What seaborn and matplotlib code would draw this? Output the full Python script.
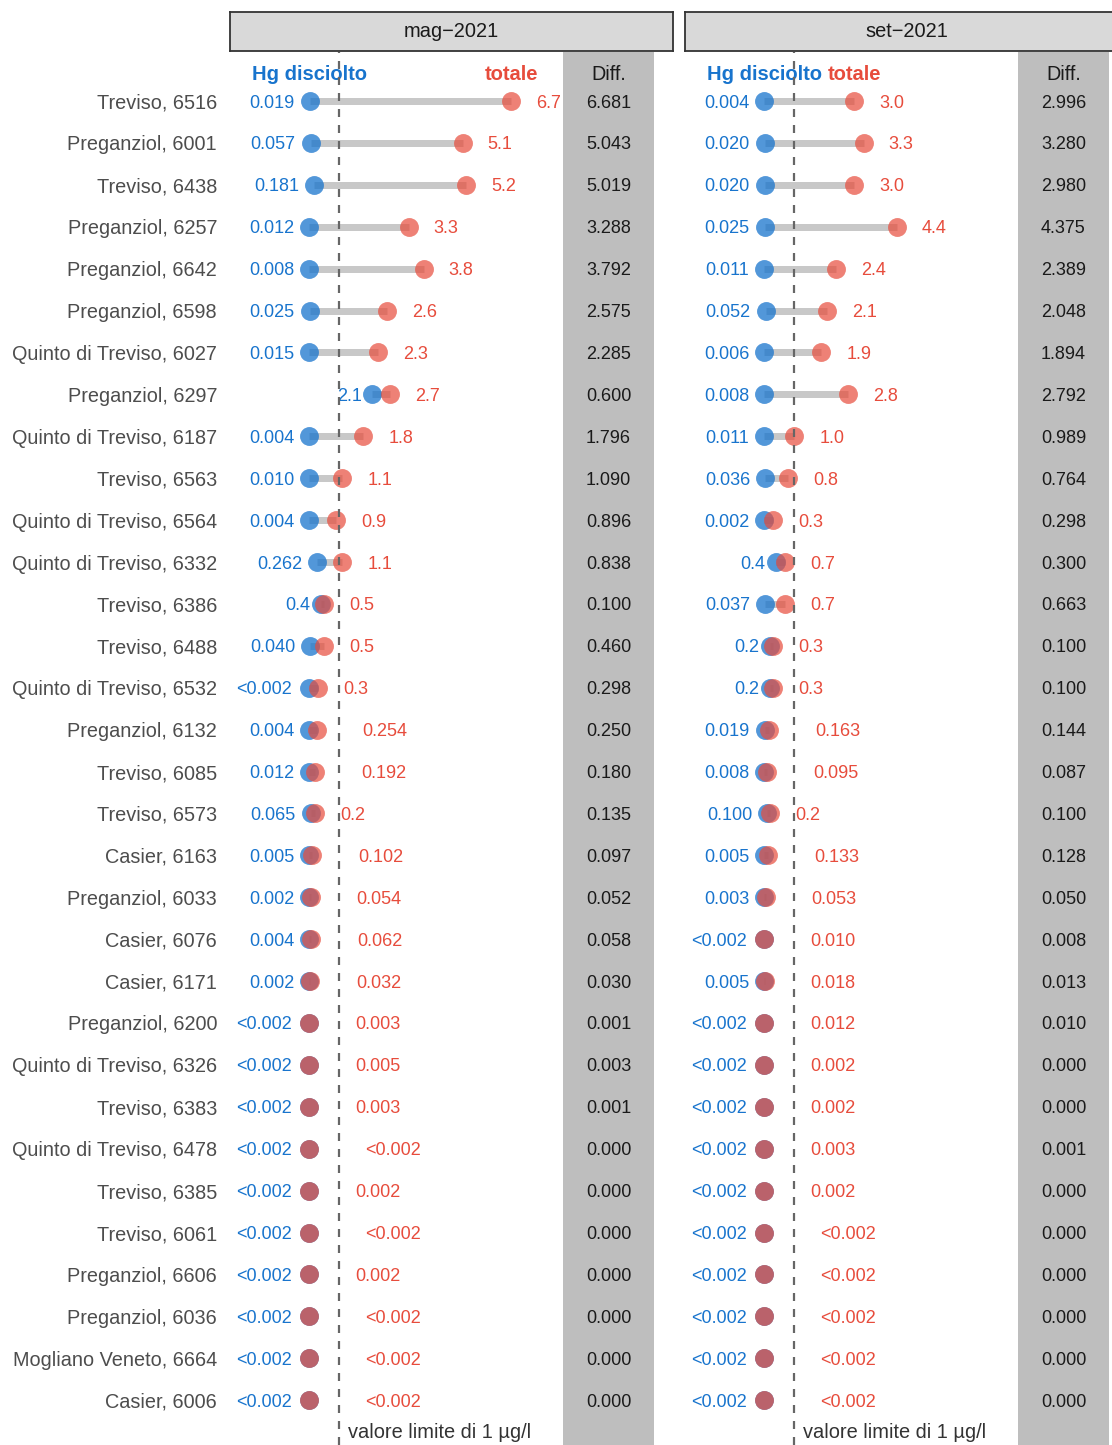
import numpy as np
import pandas as pd
import matplotlib
matplotlib.use("Agg")
import matplotlib.pyplot as plt
import seaborn as sns

sns.set_theme(style="white")
plt.rcParams['font.family'] = ['Liberation Sans', 'DejaVu Sans']

# dati (stringhe come riportate nelle etichette)
stazioni = ["Treviso, 6516", "Preganziol, 6001", "Treviso, 6438", "Preganziol, 6257",
            "Preganziol, 6642", "Preganziol, 6598", "Quinto di Treviso, 6027", "Preganziol, 6297",
            "Quinto di Treviso, 6187", "Treviso, 6563", "Quinto di Treviso, 6564",
            "Quinto di Treviso, 6332", "Treviso, 6386", "Treviso, 6488", "Quinto di Treviso, 6532",
            "Preganziol, 6132", "Treviso, 6085", "Treviso, 6573", "Casier, 6163",
            "Preganziol, 6033", "Casier, 6076", "Casier, 6171", "Preganziol, 6200",
            "Quinto di Treviso, 6326", "Treviso, 6383", "Quinto di Treviso, 6478",
            "Treviso, 6385", "Treviso, 6061", "Preganziol, 6606", "Preganziol, 6036",
            "Mogliano Veneto, 6664", "Casier, 6006"]

mag_disciolto = ["0.019", "0.057", "0.181", "0.012", "0.008", "0.025", "0.015", "2.1",
                 "0.004", "0.010", "0.004", "0.262", "0.4", "0.040", "<0.002", "0.004",
                 "0.012", "0.065", "0.005", "0.002", "0.004", "0.002", "<0.002", "<0.002",
                 "<0.002", "<0.002", "<0.002", "<0.002", "<0.002", "<0.002", "<0.002", "<0.002"]
mag_totale = ["6.7", "5.1", "5.2", "3.3", "3.8", "2.6", "2.3", "2.7",
              "1.8", "1.1", "0.9", "1.1", "0.5", "0.5", "0.3", "0.254",
              "0.192", "0.2", "0.102", "0.054", "0.062", "0.032", "0.003", "0.005",
              "0.003", "<0.002", "0.002", "<0.002", "0.002", "<0.002", "<0.002", "<0.002"]

set_disciolto = ["0.004", "0.020", "0.020", "0.025", "0.011", "0.052", "0.006", "0.008",
                 "0.011", "0.036", "0.002", "0.4", "0.037", "0.2", "0.2", "0.019",
                 "0.008", "0.100", "0.005", "0.003", "<0.002", "0.005", "<0.002", "<0.002",
                 "<0.002", "<0.002", "<0.002", "<0.002", "<0.002", "<0.002", "<0.002", "<0.002"]
set_totale = ["3.0", "3.3", "3.0", "4.4", "2.4", "2.1", "1.9", "2.8",
              "1.0", "0.8", "0.3", "0.7", "0.7", "0.3", "0.3", "0.163",
              "0.095", "0.2", "0.133", "0.053", "0.010", "0.018", "0.012", "0.002",
              "0.002", "0.003", "0.002", "<0.002", "<0.002", "<0.002", "<0.002", "<0.002"]

campagne = ["mag\u22122021", "set\u22122021"]
limite = 1.0

BLU = "#1874CD"
ROSSO = "#E74C3C"
PX = 72 / 100  # punti per pixel
W, H = 1112, 1445


def valore(s):
    return float(s.lstrip("<"))


def box(x0, y0, w, h):
    return [x0 / W, 1 - (y0 + h) / H, w / W, h / H]


def off_blu(lab):
    return (2.2 * len(lab) + 4) * PX


def off_rosso(lab):
    return (10.5 * len(lab) - 6.5) * PX


fig = plt.figure(figsize=(W / 100, H / 100), dpi=100)
righe = np.arange(len(stazioni))

for k, (nome, disc, tot) in enumerate(zip(campagne, [mag_disciolto, set_disciolto],
                                          [mag_totale, set_totale])):
    x0 = 230 + 455 * k
    ax = fig.add_axes(box(x0, 52, 443, 1393))
    st = fig.add_axes(box(x0, 12, 443, 39))

    df = pd.DataFrame({"riga": righe,
                       "disc": [valore(v) for v in disc],
                       "tot": [valore(v) for v in tot]})
    df["diff"] = df["tot"] - df["disc"]

    ax.axvspan(8.43, 11.43, color="#BEBEBE", lw=0, zorder=0)
    ax.hlines(df["riga"], df["disc"], df["tot"], color="#C8C8C8", lw=7 * PX, zorder=1)
    sns.scatterplot(data=df, x="disc", y="riga", color=BLU, alpha=0.75, s=185,
                    linewidth=0, ax=ax, zorder=2)
    sns.scatterplot(data=df, x="tot", y="riga", color=ROSSO, alpha=0.7, s=185,
                    linewidth=0, ax=ax, zorder=3)
    ax.axvline(limite, color="#666666", lw=1.6, linestyle=(0, (3.6, 3.6)), zorder=4)

    for i, r in df.iterrows():
        ax.annotate(disc[i], (r["disc"], i), xytext=(-off_blu(disc[i]), 0),
                    textcoords="offset points", ha="right", va="center_baseline",
                    color=BLU, fontsize=13, zorder=1.5)
        ax.annotate(tot[i], (r["tot"], i), xytext=(off_rosso(tot[i]), 0),
                    textcoords="offset points", ha="left", va="center_baseline",
                    color=ROSSO, fontsize=13, zorder=1.5)
        ax.text(9.93, i, "%.3f" % abs(r["diff"]), ha="center", va="center_baseline",
                color="#1A1A1A", fontsize=13)

    # intestazioni
    ax.text(-1.9, -0.67, "Hg disciolto", ha="left", va="center_baseline", color=BLU,
            fontsize=14.5, fontweight="bold")
    ax.annotate("totale", (df["tot"][0], -0.67),
                xytext=(off_rosso(tot[0]) + 2 * PX, 0), textcoords="offset points",
                ha="right", va="center_baseline", color=ROSSO, fontsize=14.5,
                fontweight="bold")
    ax.text(9.93, -0.67, "Diff.", ha="center", va="center_baseline", color="#1A1A1A",
            fontsize=14.2)
    ax.annotate("valore limite di 1 \u00b5g/l", (limite, 31.72), xytext=(9 * PX, 0),
                textcoords="offset points", ha="left", va="center_baseline",
                color="#333333", fontsize=14.4)

    ax.set_xlim(-2.62, 12.07)
    ax.set_ylim(32.07, -1.17)
    ax.set(xlabel="", ylabel="")
    ax.set_xticks([])
    ax.set_yticks(righe)
    ax.set_yticklabels(stazioni if k == 0 else [])
    ax.tick_params(axis="y", length=0, pad=13 * PX, labelsize=14.3, labelcolor="#4D4D4D")
    for sp in ax.spines.values():
        sp.set_visible(False)

    st.set_facecolor("#D9D9D9")
    st.set_xticks([])
    st.set_yticks([])
    for sp in st.spines.values():
        sp.set_color("#333333")
        sp.set_linewidth(1.3)
    st.text(0.5, 0.5, nome, ha="center", va="center", color="#1A1A1A",
            fontsize=14.4, transform=st.transAxes)

fig.savefig("out.png", dpi=100)
